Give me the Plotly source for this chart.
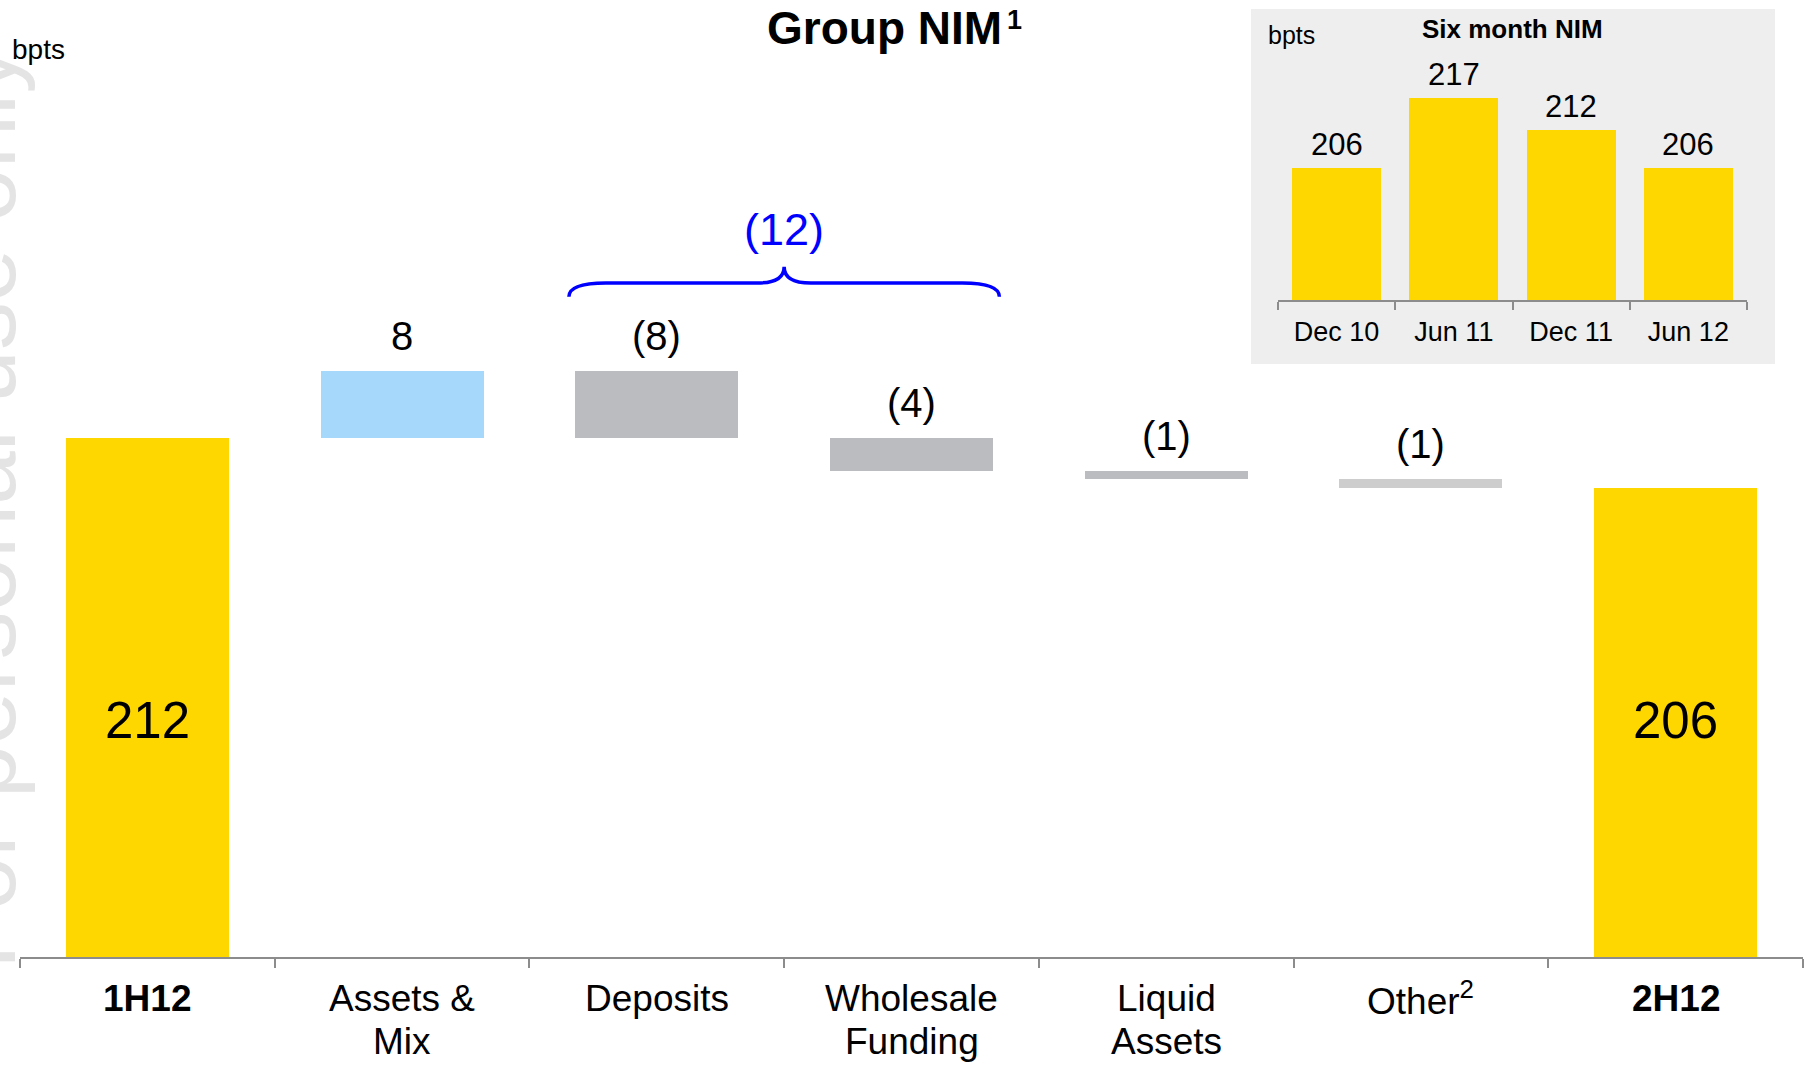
import plotly.graph_objects as go

# ---------------- data ----------------
categories = ["<b>1H12</b>", "Assets &<br>Mix", "Deposits", "Wholesale<br>Funding",
              "Liquid<br>Assets", "Other<sup>2</sup>", "<b>2H12</b>"]
start_value = 212
change_values = [8, -8, -4, -1, -1]          # Assets & Mix, Deposits, Wholesale, Liquid, Other
end_value = 206
change_colors = ["#A6D8FB", "#BBBCC0", "#BBBCC0", "#BBBCC0", "#CDCDCD"]
group_members = [2, 3]                       # Deposits + Wholesale Funding bracket

inset_periods = ["Dec 10", "Jun 11", "Dec 11", "Jun 12"]
inset_values = [206, 217, 212, 206]

# ---------------- style ----------------
FONT = "Liberation Sans, Arial, Helvetica, sans-serif"
YELLOW = "#FFD700"
AXIS_GREY = "#8C8C8C"
W, H = 1812, 1065
ML, MR, MT, MB = 20, 9, 10, 108
PW, PH = W - ML - MR, H - MT - MB
Y_MIN, Y_MAX = 150, 263.03
TOTAL_LABEL_Y = 178.2
INSET_Y_MIN, INSET_Y_MAX = 185, 231.03
CAT_FIRST_LINE = 41      # px below axis (centre of first label line)
CAT_LINE_STEP = 43       # px between label lines


def px_x(px):
    return (px - ML) / PW


def px_y(py):
    return (H - MB - py) / PH


def fmt(v):
    return str(v) if v >= 0 else "(%d)" % abs(v)


fig = go.Figure()

n = len(categories)
xs = list(range(n))

# totals
fig.add_trace(go.Bar(x=[xs[0], xs[-1]], y=[start_value, end_value], width=0.64,
                     marker=dict(color=YELLOW, line=dict(width=0)),
                     hoverinfo="skip", showlegend=False))

# floating change bars
levels = [start_value]
bases, heights, tops = [], [], []
for c in change_values:
    prev = levels[-1]
    new = prev + c
    bases.append(min(prev, new))
    heights.append(abs(c))
    tops.append(max(prev, new))
    levels.append(new)

fig.add_trace(go.Bar(x=xs[1:-1], y=heights, base=bases, width=0.64,
                     marker=dict(color=change_colors, line=dict(width=0)),
                     hoverinfo="skip", showlegend=False))

# inset bars
fig.add_trace(go.Bar(x=list(range(len(inset_periods))), y=inset_values, width=0.76,
                     marker=dict(color=YELLOW, line=dict(width=0)),
                     xaxis="x2", yaxis="y2", hoverinfo="skip", showlegend=False))

annotations = []

# watermark
annotations.append(dict(text="For personal use only", xref="paper", yref="paper",
                        x=px_x(-18), y=px_y(508), xanchor="center", yanchor="middle",
                        textangle=-90, showarrow=False,
                        font=dict(family=FONT, size=96, color="#E4E4E4")))

# category labels (one annotation per line for tighter line spacing)
for xi, cat in zip(xs, categories):
    for k, line in enumerate(cat.split("<br>")):
        annotations.append(dict(text=line, x=xi, y=0, xref="x", yref="paper",
                                xanchor="center", yanchor="middle",
                                yshift=-(CAT_FIRST_LINE + k * CAT_LINE_STEP),
                                showarrow=False,
                                font=dict(family=FONT, size=37, color="black")))

# change labels
for i, (c, t) in enumerate(zip(change_values, tops)):
    annotations.append(dict(text=fmt(c), x=xs[i + 1], y=t, xref="x", yref="y",
                            yanchor="bottom", yshift=11, showarrow=False,
                            font=dict(family=FONT, size=40, color="black")))

# total labels inside bars
for xi, v in [(xs[0], start_value), (xs[-1], end_value)]:
    annotations.append(dict(text=str(v), x=xi, y=TOTAL_LABEL_Y, xref="x", yref="y",
                            yanchor="middle", showarrow=False,
                            font=dict(family=FONT, size=51, color="black")))

# bracket over Deposits + Wholesale
g_sum = sum(change_values[i - 1] for i in group_members)
g_top = max(tops[i - 1] for i in group_members)
xc = (group_members[0] + group_members[-1]) / 2
half = (group_members[-1] - group_members[0]) / 2 + 0.345
x0, x1 = xc - half, xc + half
y_end, y_line, y_peak = g_top + 8.8, g_top + 10.45, g_top + 12.4
dx, dc = 0.145, 0.105
path = (f"M {x0},{y_end} Q {x0},{y_line} {x0 + dx},{y_line} "
        f"L {xc - dc},{y_line} Q {xc},{y_line} {xc},{y_peak} "
        f"Q {xc},{y_line} {xc + dc},{y_line} "
        f"L {x1 - dx},{y_line} Q {x1},{y_line} {x1},{y_end}")
shapes = [
    dict(type="rect", xref="paper", yref="paper", x0=px_x(1251), x1=px_x(1775),
         y0=px_y(364), y1=px_y(9), fillcolor="#EEEEEE", line=dict(width=0), layer="below"),
    dict(type="path", path=path, xref="x", yref="y",
         line=dict(color="#0000FF", width=3.5)),
]
annotations.append(dict(text=fmt(g_sum), x=xc, y=y_peak, xref="x", yref="y",
                        yanchor="bottom", yshift=10, showarrow=False,
                        font=dict(family=FONT, size=45, color="#0000FF")))

# titles / units
annotations.append(dict(text="<b>Group NIM</b>", xref="paper", yref="paper",
                        x=px_x(1004), y=px_y(28), xanchor="right", yanchor="middle",
                        showarrow=False, font=dict(family=FONT, size=46, color="black")))
annotations.append(dict(text="<b>1</b>", xref="paper", yref="paper",
                        x=px_x(1005), y=px_y(20), xanchor="left", yanchor="middle",
                        showarrow=False, font=dict(family=FONT, size=27, color="black")))
annotations.append(dict(text="bpts", xref="paper", yref="paper",
                        x=px_x(10), y=px_y(49), xanchor="left", yanchor="middle",
                        showarrow=False, font=dict(family=FONT, size=28, color="black")))

# inset texts
annotations.append(dict(text="bpts", xref="paper", yref="paper",
                        x=px_x(1291), y=px_y(35), xanchor="center", yanchor="middle",
                        showarrow=False, font=dict(family=FONT, size=25, color="black")))
annotations.append(dict(text="<b>Six month NIM</b>", xref="paper", yref="paper",
                        x=px_x(1512), y=px_y(29), xanchor="center", yanchor="middle",
                        showarrow=False, font=dict(family=FONT, size=26, color="black")))
for i, v in enumerate(inset_values):
    annotations.append(dict(text=str(v), x=i, y=v, xref="x2", yref="y2",
                            yanchor="bottom", yshift=4, showarrow=False,
                            font=dict(family=FONT, size=31, color="black")))

fig.update_layout(
    width=W, height=H,
    margin=dict(l=ML, r=MR, t=MT, b=MB, pad=0, autoexpand=False),
    paper_bgcolor="white", plot_bgcolor="rgba(0,0,0,0)",
    bargap=0, barmode="overlay",
    font=dict(family=FONT, color="black"),
    showlegend=False,
    xaxis=dict(domain=[0, 1], range=[-0.5, n - 0.5], tickmode="array",
               tickvals=[i - 0.5 for i in range(n + 1)], showticklabels=False,
               ticks="outside", ticklen=9, tickwidth=1.5, tickcolor=AXIS_GREY,
               showgrid=False, zeroline=False,
               showline=True, linecolor=AXIS_GREY, linewidth=2, automargin=False,
               fixedrange=True),
    yaxis=dict(domain=[0, 1], range=[Y_MIN, Y_MAX], visible=False, showgrid=False,
               zeroline=False, fixedrange=True, automargin=False),
    xaxis2=dict(domain=[px_x(1278), px_x(1747)], anchor="y2",
                range=[-0.5, len(inset_periods) - 0.5], tickmode="array",
                tickvals=list(range(len(inset_periods))), ticktext=inset_periods,
                ticks="", showgrid=False, zeroline=False, showline=True,
                linecolor=AXIS_GREY, linewidth=2, automargin=False,
                tickfont=dict(family=FONT, size=27, color="black"),
                ticklabelstandoff=7,
                minor=dict(tickmode="array",
                           tickvals=[i - 0.5 for i in range(len(inset_periods) + 1)],
                           ticks="outside", ticklen=8, tickwidth=1.5, tickcolor=AXIS_GREY,
                           showgrid=False),
                fixedrange=True),
    yaxis2=dict(domain=[px_y(300), 1], anchor="x2", range=[INSET_Y_MIN, INSET_Y_MAX],
                visible=False, showgrid=False, zeroline=False, fixedrange=True,
                automargin=False),
    annotations=annotations,
    shapes=shapes,
)

fig.write_html("out.html", config={"displayModeBar": False},
               post_script="document.body.style.margin='0';document.body.style.overflow='hidden';")
